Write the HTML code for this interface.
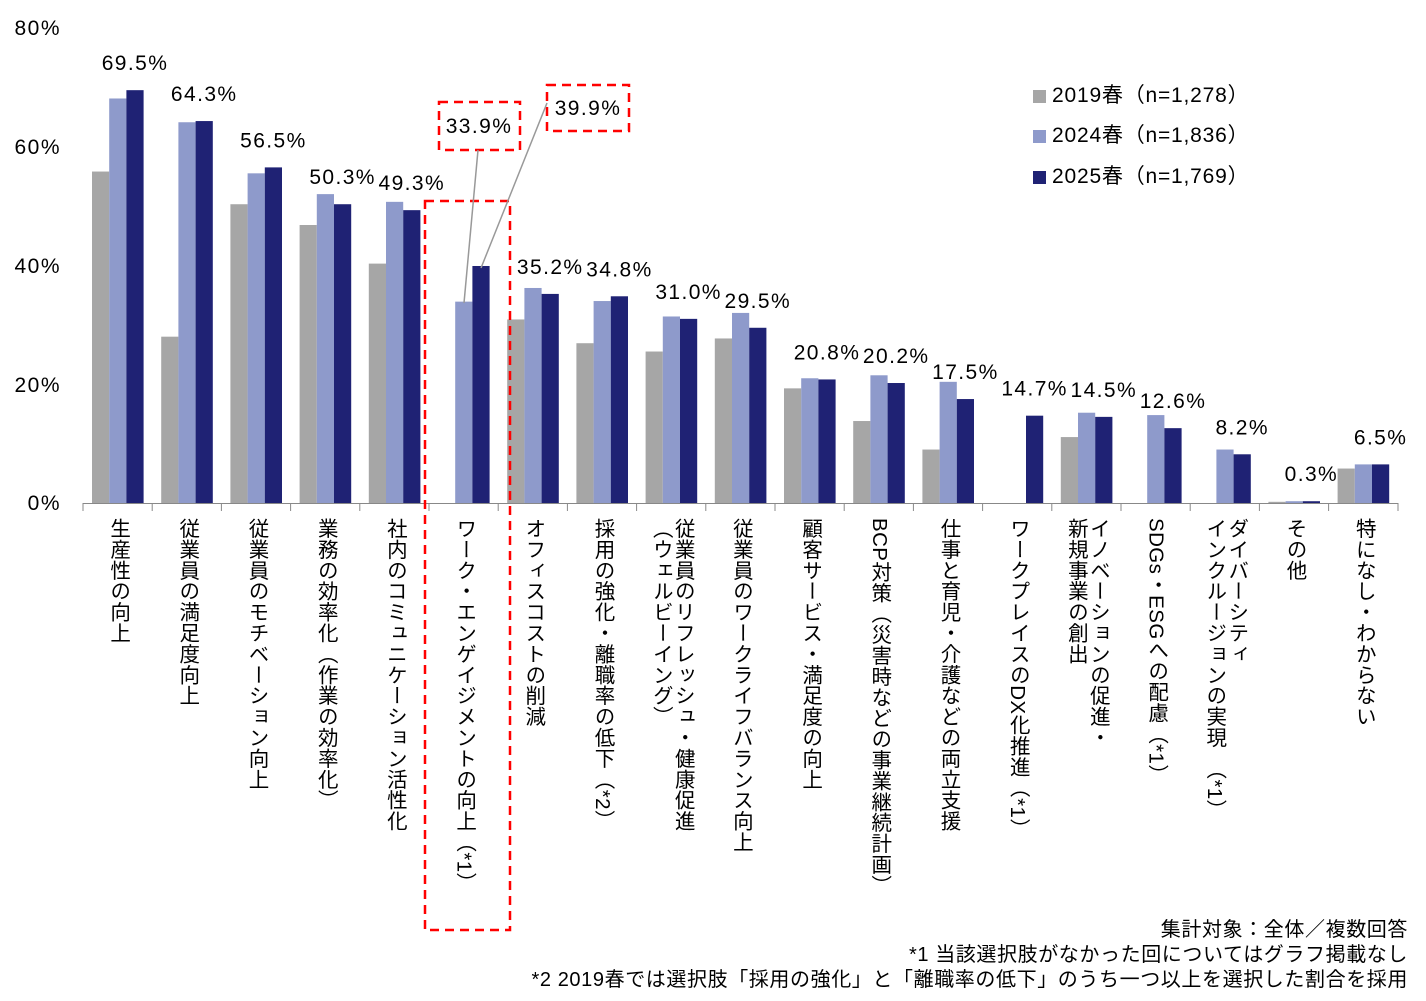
<!DOCTYPE html>
<html><head><meta charset="utf-8"><style>
body{margin:0;background:#fff;width:1426px;height:1001px;overflow:hidden;position:relative;font-family:"Liberation Sans","Noto Sans CJK JP",sans-serif;}
.v{position:absolute;top:518px;writing-mode:vertical-rl;font-size:20.5px;letter-spacing:0.4px;line-height:22px;color:#000;white-space:nowrap;font-family:"Liberation Sans","Noto Sans CJK JP",sans-serif;}
.fn{position:absolute;right:18px;font-size:20px;letter-spacing:0.6px;color:#000;white-space:nowrap;}
</style></head><body>
<svg width="1426" height="1001" style="position:absolute;left:0;top:0" font-family="Liberation Sans, Noto Sans CJK JP, sans-serif">
<g id="bars"></g>
<line x1="83" y1="503.5" x2="1398" y2="503.5" stroke="#888" stroke-width="1"/>
<g font-size="21" letter-spacing="1.5" text-anchor="end" fill="#000">
<text x="61" y="35">80%</text><text x="61" y="154">60%</text><text x="61" y="273">40%</text><text x="61" y="392">20%</text><text x="61" y="510">0%</text>
</g>
<g id="ticks" stroke="#888"></g>
<g id="labels" font-size="21" letter-spacing="1.4" text-anchor="middle" fill="#000"></g>
<rect x="425" y="201" width="85" height="729" fill="none" stroke="#f00" stroke-width="2.5" stroke-dasharray="9,6"/>
<rect x="439" y="102" width="81" height="48" fill="none" stroke="#f00" stroke-width="2.5" stroke-dasharray="9,6"/>
<rect x="547" y="85" width="82" height="46" fill="none" stroke="#f00" stroke-width="2.5" stroke-dasharray="9,6"/>
<text x="479" y="133" font-size="21" letter-spacing="1.4" text-anchor="middle">33.9%</text>
<text x="588" y="115" font-size="21" letter-spacing="1.4" text-anchor="middle">39.9%</text>
<line x1="478" y1="150" x2="464" y2="303" stroke="#999" stroke-width="1.5"/>
<line x1="547" y1="103" x2="481" y2="268" stroke="#999" stroke-width="1.5"/>
<g font-size="21" letter-spacing="0.8" fill="#000">
<rect x="1033" y="90" width="13" height="13" fill="#A6A6A6"/><text x="1052" y="102">2019春（n=1,278）</text>
<rect x="1033" y="130" width="13" height="13" fill="#8E9ACB"/><text x="1052" y="142">2024春（n=1,836）</text>
<rect x="1033" y="171" width="13" height="13" fill="#1F2274"/><text x="1052" y="183">2025春（n=1,769）</text>
</g>
</svg>
<div id="cats"></div>
<div class="fn" style="top:913px">集計対象：全体／複数回答</div>
<div class="fn" style="top:938px">*1 当該選択肢がなかった回についてはグラフ掲載なし</div>
<div class="fn" style="top:963px">*2 2019春では選択肢「採用の強化」と「離職率の低下」のうち一つ以上を選択した割合を採用</div>
<script>
var d=[[55.8,68.1,69.5],[28.0,64.1,64.3],[50.3,55.5,56.5],[46.8,52.0,50.3],[40.3,50.7,49.3],[null,null,39.9],[30.9,36.2,35.2],[26.9,34.0,34.8],[25.5,31.4,31.0],[27.7,32.0,29.5],[19.3,21.0,20.8],[13.8,21.5,20.2],[9.0,20.4,17.5],[null,null,14.7],[11.1,15.2,14.5],[null,14.8,12.6],[null,9.0,8.2],[0.2,0.3,0.3],[5.8,6.5,6.5]];
d[5][1]=33.9;
var cats=[["生産性の向上"],["従業員の満足度向上"],["従業員のモチベーション向上"],["業務の効率化（作業の効率化）"],["社内のコミュニケーション活性化"],["ワーク・エンゲイジメントの向上（*1）"],["オフィスコストの削減"],["採用の強化・離職率の低下（*2）"],["従業員のリフレッシュ・健康促進","（ウェルビーイング）"],["従業員のワークライフバランス向上"],["顧客サービス・満足度の向上"],["BCP対策（災害時などの事業継続計画）"],["仕事と育児・介護などの両立支援"],["ワークプレイスのDX化推進（*1）"],["イノベーションの促進・","新規事業の創出"],["SDGs・ESGへの配慮（*1）"],["ダイバーシティ","インクルージョンの実現　（*1）"],["その他"],["特になし・わからない"]];
var cols=["#A6A6A6","#8E9ACB","#1F2274"],W=69.2,x0=83,y0=503,k=5.94,ns="http://www.w3.org/2000/svg";
var B=document.getElementById("bars"),T=document.getElementById("ticks"),L=document.getElementById("labels"),C=document.getElementById("cats");
for(var i=0;i<19;i++){var s=x0+i*W;
 for(var j=0;j<3;j++){var v=d[i][j];if(v==null)continue;var r=document.createElementNS(ns,"rect");var h=v*k;r.setAttribute("x",s+9+j*17.2);r.setAttribute("y",y0-h);r.setAttribute("width",17.2);r.setAttribute("height",h);r.setAttribute("fill",cols[j]);B.appendChild(r);}
 if(i!=5){var t=document.createElementNS(ns,"text");t.setAttribute("x",s+9+2*17.2+8.6);t.setAttribute("y",y0-d[i][2]*k-20);t.textContent=d[i][2].toFixed(1)+"%";L.appendChild(t);}
 var tk=document.createElementNS(ns,"line");tk.setAttribute("x1",s);tk.setAttribute("x2",s);tk.setAttribute("y1",503);tk.setAttribute("y2",511);T.appendChild(tk);
 var dv=document.createElement("div");dv.className="v";dv.innerHTML=cats[i].join("<br>");C.appendChild(dv);var w=cats[i].length*22;dv.style.left=(s+W/2-w/2)+"px";
}
var tk=document.createElementNS(ns,"line");tk.setAttribute("x1",1398);tk.setAttribute("x2",1398);tk.setAttribute("y1",503);tk.setAttribute("y2",511);T.appendChild(tk);
</script>
</body></html>
